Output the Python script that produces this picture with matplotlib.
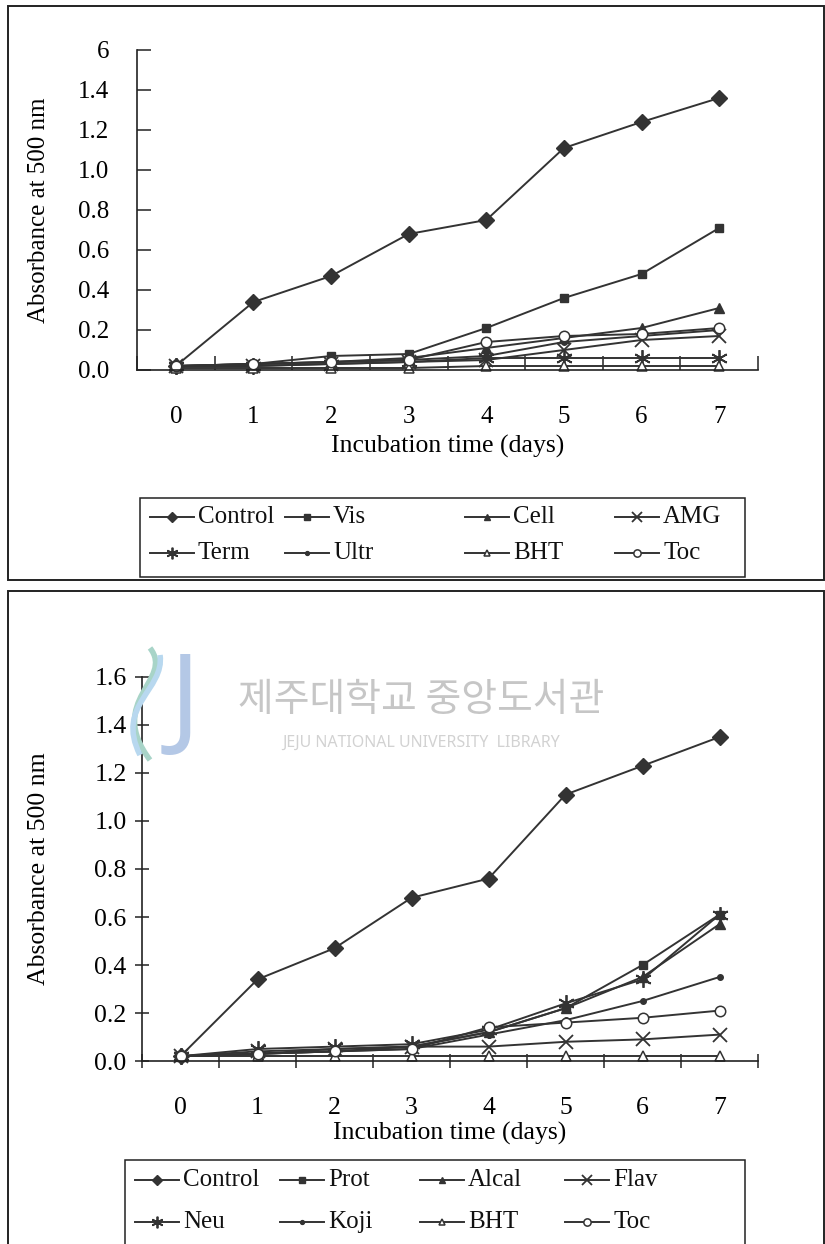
import matplotlib
matplotlib.use('Agg')
import matplotlib.pyplot as plt
from matplotlib.lines import Line2D
from matplotlib.patches import Rectangle, PathPatch
from matplotlib.path import Path

plt.rcParams['font.family'] = ['Liberation Serif', 'DejaVu Serif']

days = [0, 1, 2, 3, 4, 5, 6, 7]

# upper chart: extracts vs. controls
labels_top = ['Control', 'Vis', 'Cell', 'AMG', 'Term', 'Ultr', 'BHT', 'Toc']
control_top = [0.02, 0.34, 0.47, 0.68, 0.75, 1.11, 1.24, 1.36]
vis = [0.02, 0.03, 0.07, 0.08, 0.21, 0.36, 0.48, 0.71]
cell = [0.02, 0.03, 0.04, 0.06, 0.11, 0.16, 0.21, 0.31]
amg = [0.02, 0.02, 0.03, 0.04, 0.05, 0.10, 0.15, 0.17]
term = [0.02, 0.02, 0.03, 0.04, 0.06, 0.06, 0.06, 0.06]
ultr = [0.02, 0.03, 0.04, 0.05, 0.07, 0.14, 0.17, 0.20]
bht_top = [0.01, 0.01, 0.01, 0.01, 0.02, 0.02, 0.02, 0.02]
toc_top = [0.02, 0.03, 0.04, 0.05, 0.14, 0.17, 0.18, 0.21]

# lower chart: enzyme extracts vs. controls
labels_bot = ['Control', 'Prot', 'Alcal', 'Flav', 'Neu', 'Koji', 'BHT', 'Toc']
control_bot = [0.02, 0.34, 0.47, 0.68, 0.76, 1.11, 1.23, 1.35]
prot = [0.02, 0.03, 0.04, 0.06, 0.12, 0.22, 0.40, 0.61]
alcal = [0.02, 0.03, 0.05, 0.06, 0.12, 0.22, 0.35, 0.57]
flav = [0.02, 0.04, 0.05, 0.06, 0.06, 0.08, 0.09, 0.11]
neu = [0.02, 0.05, 0.06, 0.07, 0.13, 0.24, 0.34, 0.61]
koji = [0.02, 0.03, 0.04, 0.05, 0.11, 0.17, 0.25, 0.35]
bht_bot = [0.02, 0.02, 0.02, 0.02, 0.02, 0.02, 0.02, 0.02]
toc_bot = [0.02, 0.03, 0.04, 0.05, 0.14, 0.16, 0.18, 0.21]

yticks = [0.0, 0.2, 0.4, 0.6, 0.8, 1.0, 1.2, 1.4, 1.6]
ylabels_top = ['0.0', '0.2', '0.4', '0.6', '0.8', '1.0', '1.2', '1.4', '6']
ylabels_bot = ['0.0', '0.2', '0.4', '0.6', '0.8', '1.0', '1.2', '1.4', '1.6']

INK = '#333333'
W, H = 825, 1244

# marker style per series slot (same order in both charts)
STYLES = [
    dict(marker='D', ms=8, mfc=INK, mec=INK),
    dict(marker='s', ms=5.5, mfc=INK, mec=INK),
    dict(marker='^', ms=6.5, mfc=INK, mec=INK),
    dict(marker='x', ms=10, mfc='none', mec=INK, mew=1.3),
    dict(marker=(6, 2, 0), ms=12, mfc='none', mec=INK, mew=1.3),
    dict(marker='o', ms=4, mfc=INK, mec=INK),
    dict(marker='^', ms=7, mfc='white', mec=INK, mew=1.1),
    dict(marker='o', ms=7.5, mfc='white', mec=INK, mew=1.1),
]


def fx(px):
    return px / W


def fy(py):
    return 1 - py / H


def add_axes(left, right, top, bottom):
    return fig.add_axes([fx(left), fy(bottom), fx(right) - fx(left), fy(top) - fy(bottom)])


def style_axes(ax, ylabels, tdir, fs, pad_x, pad_y):
    ax.set_xlim(-0.5, 7.5)
    ax.set_ylim(0, 1.6)
    for s in ['top', 'right']:
        ax.spines[s].set_visible(False)
    for s in ['left', 'bottom']:
        ax.spines[s].set_color('#222222')
        ax.spines[s].set_linewidth(1.2)
    ax.set_xticks([d - 0.5 for d in days] + [7.5])
    ax.set_xticklabels([])
    ax.set_xticks(days, minor=True)
    ax.set_xticklabels([str(d) for d in days], minor=True, fontsize=fs)
    ax.tick_params(axis='x', which='minor', length=0, pad=pad_x)
    ax.tick_params(axis='x', which='major', direction=tdir, length=10, width=1.1, color='#222222')
    ax.set_yticks(yticks)
    ax.set_yticklabels(ylabels, fontsize=fs)
    ax.tick_params(axis='y', direction=tdir, length=10, width=1.1, color='#222222', pad=pad_y)
    ax.patch.set_alpha(0)


def plot_series(ax, series):
    for vals, st in zip(series, STYLES):
        ax.plot(days, vals, color=INK, lw=1.4, clip_on=False, **st)


def draw_legend(labels, cols, rows, box, fs):
    x0, y0, x1, y1 = box
    fig.patches.append(Rectangle((fx(x0), fy(y1)), fx(x1) - fx(x0), fy(y0) - fy(y1),
                                 transform=fig.transFigure, fill=False,
                                 ec='#222222', lw=1.1))
    for i, (lab, st) in enumerate(zip(labels, STYLES)):
        cx = cols[i % 4]
        cy = rows[i // 4]
        small = dict(st)
        small['ms'] = st['ms'] * 0.7
        fig.add_artist(Line2D([fx(cx), fx(cx + 44)], [fy(cy), fy(cy)], color=INK, lw=1.4,
                              transform=fig.transFigure))
        fig.add_artist(Line2D([fx(cx + 22)], [fy(cy)], color=INK, transform=fig.transFigure,
                              **small))
        fig.text(fx(cx + 48), fy(cy), lab, fontsize=fs, va='center', ha='left', color='#111111')


fig = plt.figure(figsize=(W / 100, H / 100), dpi=100)

# outer frames of the two charts
for top, bot in [(6, 580), (591, 1260)]:
    fig.patches.append(Rectangle((fx(8), fy(bot)), fx(824) - fx(8), fy(top) - fy(bot),
                                 transform=fig.transFigure, fill=False, ec='#222222', lw=1.4))

# library watermark behind the lower chart
fig.text(fx(421), fy(700), '제주대학교 중앙도서관', fontsize=28, ha='center', va='center',
         color='#c6c6c6', family=['Noto Sans CJK KR', 'DejaVu Sans'])
fig.text(fx(421), fy(743), 'JEJU NATIONAL UNIVERSITY  LIBRARY', fontsize=11.5, ha='center',
         va='center', color='#d2d2d2', family=['Noto Sans', 'DejaVu Sans'])
fig.text(fx(185), fy(705), 'J', fontsize=80, ha='center', va='center', color='#b4c8e6',
         family=['Noto Sans', 'DejaVu Sans'], fontweight='bold')
for pts, col in [([(150, 760), (105, 700), (175, 680), (150, 648)], '#a8d4c8'),
                 ([(140, 755), (115, 705), (165, 690), (160, 655)], '#b8d8ef')]:
    verts = [(fx(a), fy(b)) for a, b in pts]
    path = Path(verts, [Path.MOVETO, Path.CURVE4, Path.CURVE4, Path.CURVE4])
    fig.patches.append(PathPatch(path, transform=fig.transFigure, fill=False, ec=col, lw=4))

# upper chart
ax1 = add_axes(137, 758, 50, 370)
style_axes(ax1, ylabels_top, 'in', 18, 26, 20)
plot_series(ax1, [control_top, vis, cell, amg, term, ultr, bht_top, toc_top])
ax1.set_xlabel('Incubation time (days)', fontsize=18.5, labelpad=5)
ax1.set_ylabel('Absorbance at 500 nm', fontsize=18)
ax1.yaxis.set_label_coords(-0.14, 0.5)
draw_legend(labels_top, [150, 285, 465, 615], [517, 553], (140, 498, 745, 577), 18)

# lower chart
ax2 = add_axes(142, 758, 677, 1061)
style_axes(ax2, ylabels_bot, 'inout', 18.5, 26, 6)
plot_series(ax2, [control_bot, prot, alcal, flav, neu, koji, bht_bot, toc_bot])
ax2.set_xlabel('Incubation time (days)', fontsize=18.5, labelpad=2)
ax2.set_ylabel('Absorbance at 500 nm', fontsize=18.5)
ax2.yaxis.set_label_coords(-0.15, 0.5)
draw_legend(labels_bot, [135, 280, 420, 565], [1180, 1222], (125, 1160, 745, 1270), 18)

fig.savefig('out.png', dpi=100)
